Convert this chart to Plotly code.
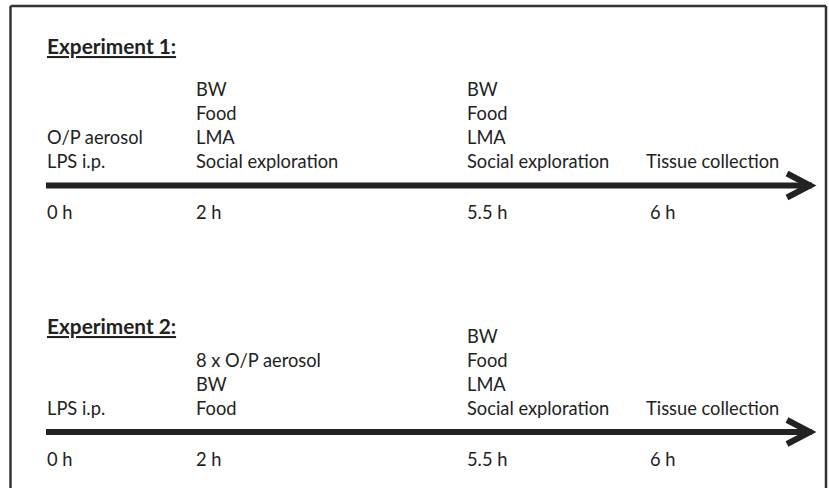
import plotly.graph_objects as go

# ---- data ----
titles = ["Experiment 1:", "Experiment 2:"]
time_labels = ["0 h", "2 h", "5.5 h", "6 h"]
exp1_events = [
    ["O/P aerosol", "LPS i.p."],
    ["BW", "Food", "LMA", "Social exploration"],
    ["BW", "Food", "LMA", "Social exploration"],
    ["Tissue collection"],
]
exp2_events = [
    ["LPS i.p."],
    ["8 x O/P aerosol", "BW", "Food"],
    ["BW", "Food", "LMA", "Social exploration"],
    ["Tissue collection"],
]
experiments = [exp1_events, exp2_events]

# ---- layout constants (pixel space of the 829x490 page) ----
W, H = 829, 490
col_x = [46, 195, 466, 645]
time_x_shift = [0, 0, 0, 4]
line_y = [185.5, 432]
title_base = [53, 333]
row_gap = 24
last_row_base = 17.5     # last event row baseline above the line
time_base = 33.5         # time label baseline below the line
line_x0, tip_x = 46, 816
FONT = "Lato"
FS = 18.3
TS = 20.8
TXT = "#222222"

fig = go.Figure()

annotations = []
shapes = []

def add_text(x, baseline, text, bold=False, underline=False, size=FS):
    f = dict(family=FONT, size=size, color=TXT)
    if underline:
        f["lineposition"] = "under"
    annotations.append(dict(
        x=x, y=baseline - 0.36 * size, xref="x", yref="y",
        text=("<b>%s</b>" % text) if bold else text,
        showarrow=False, xanchor="left", yanchor="middle",
        font=f, borderpad=0,
    ))

for e, events in enumerate(experiments):
    ly = line_y[e]
    add_text(col_x[0], title_base[e], titles[e], bold=True, underline=True, size=TS)
    for c, items in enumerate(events):
        n = len(items)
        for r, item in enumerate(items):
            base = ly - last_row_base - (n - 1 - r) * row_gap
            add_text(col_x[c], base, item)
    for c, t in enumerate(time_labels):
        add_text(col_x[c] + time_x_shift[c], ly + time_base, t)
    # timeline shaft
    shapes.append(dict(type="line", xref="x", yref="y", x0=line_x0, x1=tip_x - 4,
                       y0=ly, y1=ly, line=dict(color=TXT, width=6)))
    # chevron head
    hx = tip_x - 6
    shapes.append(dict(type="path", xref="x", yref="y",
                       path="M %f %f L %f %f L %f %f" % (hx - 23, ly - 12, hx, ly, hx - 23, ly + 12),
                       line=dict(color=TXT, width=6)))

# frame: left, top and right edges only (picture is cropped at the bottom)
fx0, fy0, fx1 = 10.5, 6, 826
for (a, b, c, d) in [(fx0, fy0, fx0, H - 2), (fx0, fy0, fx1, fy0), (fx1, fy0, fx1, H - 2)]:
    shapes.append(dict(type="line", xref="x", yref="y", x0=a, y0=b, x1=c, y1=d,
                       line=dict(color="#333333", width=2.5)))

fig.update_layout(
    width=W, height=H,
    margin=dict(l=0, r=0, t=0, b=0),
    paper_bgcolor="white", plot_bgcolor="white",
    xaxis=dict(range=[0, W], visible=False, showline=False, zeroline=False, fixedrange=True),
    yaxis=dict(range=[H, 0], visible=False, showline=False, zeroline=False, fixedrange=True),
    annotations=annotations, shapes=shapes, showlegend=False,
)
fig.write_html("out.html", config=dict(displayModeBar=False, staticPlot=True),
               post_script="document.body.style.margin='0';document.body.style.overflow='hidden';")
